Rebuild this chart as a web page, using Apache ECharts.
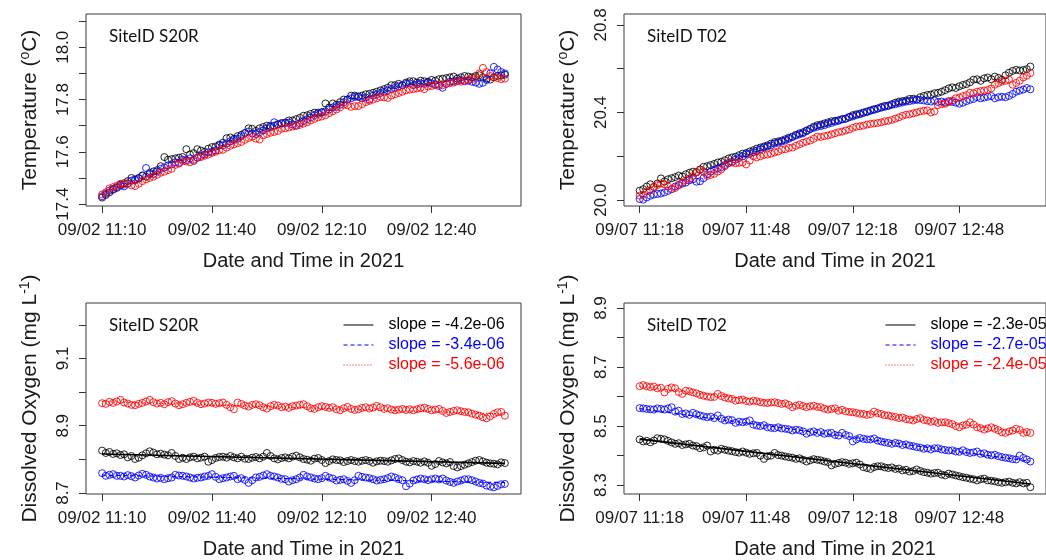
<!DOCTYPE html>
<html>
<head>
<meta charset="utf-8">
<script src="https://cdn.jsdelivr.net/npm/echarts@6/dist/echarts.min.js"></script>
<style>
html,body{margin:0;padding:0;background:#fff}
#main{width:1046px;height:560px}
</style>
</head>
<body>
<div id="main"></div>
<script>
// one reading per minute, x = minutes after the first reading
var xTicks = [0, 30, 60, 90];

// ---- SiteID S20R, 09/02 from 11:10 ----
var s20rTempBlack = [
17.425,17.435,17.445,17.455,17.462,17.475,17.480,17.488,17.500,17.492,
17.500,17.508,17.505,17.515,17.525,17.530,17.545,17.580,17.570,17.572,
17.575,17.578,17.580,17.610,17.590,17.595,17.610,17.605,17.600,17.612,
17.618,17.620,17.625,17.635,17.652,17.655,17.650,17.660,17.665,17.672,
17.690,17.688,17.680,17.690,17.695,17.700,17.695,17.700,17.705,17.710,
17.712,17.720,17.720,17.725,17.730,17.738,17.740,17.745,17.750,17.750,
17.752,17.785,17.770,17.785,17.780,17.790,17.800,17.800,17.815,17.815,
17.810,17.815,17.820,17.822,17.826,17.830,17.835,17.840,17.845,17.855,
17.855,17.860,17.855,17.865,17.870,17.870,17.865,17.872,17.870,17.868,
17.875,17.872,17.878,17.880,17.882,17.885,17.888,17.880,17.885,17.890,
17.888,17.885,17.890,17.893,17.885,17.880,17.876,17.885,17.890,17.892,
17.895];
var s20rTempBlue = [
17.430,17.440,17.452,17.458,17.465,17.470,17.468,17.478,17.490,17.495,
17.498,17.510,17.538,17.520,17.515,17.525,17.535,17.540,17.548,17.552,
17.560,17.558,17.570,17.568,17.575,17.565,17.578,17.585,17.590,17.598,
17.600,17.605,17.628,17.625,17.632,17.640,17.645,17.650,17.660,17.672,
17.678,17.670,17.668,17.675,17.682,17.690,17.700,17.713,17.705,17.708,
17.710,17.712,17.705,17.700,17.710,17.718,17.725,17.732,17.740,17.745,
17.750,17.755,17.762,17.770,17.772,17.780,17.790,17.800,17.805,17.810,
17.812,17.805,17.808,17.800,17.815,17.820,17.825,17.830,17.835,17.840,
17.845,17.850,17.855,17.860,17.862,17.855,17.858,17.862,17.860,17.865,
17.862,17.858,17.852,17.845,17.860,17.868,17.870,17.872,17.875,17.870,
17.872,17.868,17.865,17.860,17.864,17.875,17.900,17.925,17.915,17.905,
17.900];
var s20rTempRed = [
17.437,17.445,17.460,17.465,17.470,17.478,17.475,17.480,17.472,17.469,
17.478,17.488,17.495,17.500,17.505,17.512,17.520,17.524,17.530,17.535,
17.550,17.555,17.565,17.563,17.560,17.570,17.577,17.580,17.585,17.590,
17.596,17.600,17.606,17.608,17.616,17.623,17.628,17.633,17.638,17.646,
17.653,17.658,17.650,17.647,17.663,17.668,17.673,17.676,17.680,17.688,
17.690,17.693,17.697,17.700,17.703,17.708,17.713,17.720,17.726,17.732,
17.735,17.740,17.748,17.755,17.762,17.770,17.780,17.778,17.772,17.775,
17.775,17.782,17.790,17.795,17.800,17.805,17.810,17.808,17.806,17.815,
17.820,17.825,17.830,17.835,17.838,17.840,17.842,17.845,17.840,17.850,
17.852,17.855,17.858,17.855,17.860,17.862,17.865,17.870,17.868,17.872,
17.875,17.878,17.885,17.900,17.921,17.905,17.890,17.885,17.882,17.878,
17.880];
var s20rDoBlack = [
8.826,8.819,8.822,8.816,8.818,8.813,8.815,8.806,8.810,8.801,
8.805,8.812,8.818,8.824,8.820,8.815,8.817,8.814,8.812,8.819,
8.810,8.801,8.805,8.801,8.806,8.808,8.803,8.805,8.808,8.793,
8.798,8.804,8.807,8.808,8.805,8.810,8.806,8.803,8.808,8.802,
8.801,8.805,8.807,8.803,8.808,8.819,8.810,8.803,8.800,8.804,
8.806,8.803,8.808,8.811,8.806,8.801,8.799,8.796,8.802,8.804,
8.798,8.789,8.795,8.800,8.798,8.797,8.792,8.795,8.798,8.795,
8.793,8.796,8.798,8.795,8.790,8.794,8.796,8.795,8.793,8.797,
8.801,8.803,8.798,8.793,8.791,8.795,8.793,8.790,8.794,8.790,
8.781,8.786,8.795,8.791,8.788,8.792,8.780,8.776,8.780,8.784,
8.788,8.792,8.796,8.798,8.794,8.790,8.788,8.787,8.785,8.791,
8.789];
var s20rDoBlue = [
8.759,8.751,8.754,8.756,8.751,8.751,8.749,8.753,8.750,8.746,
8.752,8.757,8.754,8.749,8.746,8.743,8.745,8.741,8.744,8.746,
8.754,8.752,8.751,8.749,8.746,8.743,8.745,8.746,8.749,8.751,
8.756,8.748,8.741,8.744,8.746,8.749,8.751,8.741,8.744,8.739,
8.730,8.738,8.746,8.748,8.752,8.756,8.751,8.749,8.746,8.742,
8.741,8.734,8.738,8.741,8.746,8.754,8.749,8.746,8.743,8.741,
8.744,8.751,8.746,8.743,8.737,8.739,8.741,8.736,8.730,8.738,
8.751,8.748,8.746,8.744,8.741,8.737,8.739,8.741,8.744,8.749,
8.746,8.741,8.738,8.720,8.728,8.737,8.740,8.743,8.741,8.738,
8.741,8.743,8.740,8.743,8.737,8.733,8.730,8.734,8.737,8.741,
8.741,8.738,8.734,8.730,8.728,8.722,8.719,8.717,8.721,8.726,
8.727];
var s20rDoRed = [
8.967,8.965,8.971,8.968,8.972,8.977,8.969,8.966,8.962,8.961,
8.965,8.968,8.972,8.977,8.970,8.966,8.968,8.964,8.970,8.973,
8.966,8.961,8.964,8.968,8.971,8.974,8.968,8.964,8.966,8.969,
8.968,8.965,8.967,8.969,8.962,8.955,8.949,8.969,8.965,8.960,
8.957,8.962,8.964,8.961,8.955,8.951,8.958,8.962,8.960,8.955,
8.957,8.953,8.958,8.960,8.962,8.964,8.958,8.952,8.950,8.955,
8.958,8.956,8.953,8.955,8.949,8.946,8.952,8.956,8.950,8.947,
8.949,8.953,8.955,8.951,8.954,8.959,8.955,8.950,8.952,8.948,
8.946,8.948,8.950,8.947,8.949,8.946,8.949,8.952,8.954,8.950,
8.946,8.948,8.950,8.944,8.938,8.941,8.944,8.946,8.943,8.941,
8.940,8.936,8.933,8.930,8.925,8.922,8.928,8.935,8.940,8.941,
8.930];
// fitted lines: value at first and last reading
var s20rFitBlack = [8.816, 8.788];
var s20rFitBlue = [8.753, 8.731];
var s20rFitRed = [8.972, 8.935];
var s20rSlopes = ['slope = -4.2e-06', 'slope = -3.4e-06', 'slope = -5.6e-06'];

// ---- SiteID T02, 09/07 from 11:18 ----
var t02TempBlack = [
20.043,20.050,20.062,20.072,20.060,20.076,20.099,20.085,20.095,20.100,
20.105,20.112,20.108,20.118,20.125,20.130,20.128,20.140,20.152,20.155,
20.160,20.165,20.172,20.175,20.182,20.190,20.195,20.198,20.205,20.212,
20.215,20.222,20.228,20.235,20.240,20.245,20.250,20.258,20.265,20.268,
20.272,20.278,20.285,20.290,20.298,20.305,20.310,20.318,20.325,20.335,
20.342,20.345,20.350,20.355,20.360,20.362,20.365,20.370,20.372,20.380,
20.388,20.392,20.395,20.400,20.405,20.410,20.415,20.418,20.425,20.430,
20.432,20.438,20.445,20.450,20.452,20.455,20.462,20.463,20.460,20.470,
20.476,20.480,20.482,20.488,20.490,20.495,20.502,20.510,20.515,20.512,
20.520,20.526,20.530,20.538,20.550,20.552,20.545,20.556,20.560,20.552,
20.564,20.558,20.550,20.570,20.582,20.590,20.595,20.592,20.594,20.598,
20.610];
var t02TempBlue = [
20.005,20.002,20.012,20.020,20.025,20.028,20.030,20.035,20.042,20.050,
20.062,20.068,20.075,20.080,20.090,20.095,20.084,20.086,20.100,20.118,
20.130,20.138,20.145,20.150,20.160,20.168,20.175,20.185,20.192,20.200,
20.210,20.212,20.218,20.225,20.232,20.240,20.245,20.250,20.258,20.262,
20.267,20.272,20.280,20.288,20.295,20.300,20.305,20.315,20.325,20.330,
20.335,20.338,20.342,20.348,20.352,20.358,20.362,20.368,20.372,20.378,
20.382,20.388,20.392,20.398,20.402,20.408,20.412,20.418,20.422,20.426,
20.430,20.435,20.438,20.442,20.446,20.450,20.452,20.455,20.458,20.457,
20.455,20.452,20.450,20.455,20.448,20.450,20.446,20.452,20.448,20.445,
20.440,20.445,20.452,20.458,20.462,20.470,20.465,20.468,20.472,20.475,
20.465,20.470,20.472,20.470,20.476,20.485,20.495,20.500,20.505,20.512,
20.506];
var t02TempRed = [
20.020,20.025,20.040,20.045,20.060,20.068,20.076,20.072,20.062,20.050,
20.055,20.070,20.080,20.090,20.098,20.110,20.125,20.137,20.130,20.110,
20.115,20.120,20.130,20.140,20.155,20.170,20.172,20.168,20.170,20.172,
20.163,20.180,20.200,20.195,20.200,20.206,20.208,20.212,20.218,20.222,
20.230,20.232,20.238,20.240,20.248,20.255,20.262,20.267,20.272,20.280,
20.290,20.288,20.292,20.295,20.300,20.305,20.310,20.313,20.318,20.322,
20.330,20.335,20.337,20.340,20.345,20.348,20.350,20.352,20.355,20.360,
20.362,20.366,20.372,20.378,20.385,20.390,20.392,20.396,20.400,20.405,
20.408,20.410,20.400,20.405,20.434,20.438,20.440,20.448,20.455,20.465,
20.468,20.475,20.480,20.490,20.488,20.495,20.498,20.500,20.503,20.510,
20.527,20.535,20.541,20.545,20.550,20.527,20.535,20.545,20.560,20.568,
20.580];
var t02DoBlack = [
8.455,8.448,8.450,8.445,8.451,8.459,8.457,8.455,8.450,8.445,
8.440,8.442,8.436,8.438,8.440,8.434,8.432,8.425,8.428,8.434,
8.414,8.420,8.417,8.423,8.420,8.417,8.415,8.412,8.410,8.414,
8.410,8.406,8.408,8.409,8.400,8.389,8.398,8.400,8.409,8.402,
8.400,8.397,8.395,8.393,8.389,8.391,8.386,8.380,8.384,8.388,
8.386,8.384,8.380,8.378,8.367,8.372,8.375,8.378,8.376,8.372,
8.374,8.376,8.370,8.361,8.358,8.355,8.361,8.364,8.364,8.360,
8.358,8.360,8.355,8.356,8.350,8.352,8.346,8.348,8.353,8.348,
8.344,8.342,8.339,8.341,8.342,8.336,8.333,8.339,8.336,8.333,
8.330,8.327,8.325,8.322,8.320,8.316,8.320,8.322,8.316,8.315,
8.313,8.310,8.308,8.310,8.312,8.308,8.306,8.310,8.306,8.308,
8.293];
var t02DoBlue = [
8.561,8.560,8.558,8.557,8.556,8.560,8.558,8.556,8.560,8.564,
8.549,8.552,8.541,8.543,8.538,8.545,8.540,8.536,8.533,8.530,
8.532,8.527,8.536,8.525,8.519,8.522,8.520,8.511,8.515,8.513,
8.515,8.519,8.505,8.502,8.500,8.503,8.496,8.494,8.493,8.496,
8.492,8.491,8.489,8.485,8.488,8.486,8.482,8.474,8.479,8.482,
8.477,8.480,8.474,8.476,8.477,8.470,8.468,8.477,8.470,8.466,
8.448,8.455,8.460,8.457,8.455,8.455,8.458,8.451,8.448,8.445,
8.443,8.440,8.443,8.441,8.436,8.438,8.434,8.432,8.429,8.427,
8.423,8.425,8.421,8.425,8.425,8.421,8.419,8.417,8.418,8.414,
8.413,8.418,8.412,8.409,8.411,8.414,8.406,8.408,8.403,8.401,
8.403,8.398,8.395,8.393,8.391,8.388,8.387,8.400,8.392,8.387,
8.380];
var t02DoRed = [
8.635,8.639,8.635,8.632,8.634,8.628,8.630,8.614,8.626,8.631,
8.628,8.615,8.609,8.620,8.618,8.614,8.611,8.606,8.603,8.600,
8.598,8.599,8.609,8.602,8.597,8.594,8.592,8.586,8.588,8.590,
8.585,8.583,8.586,8.584,8.581,8.579,8.578,8.580,8.581,8.578,
8.575,8.577,8.572,8.564,8.569,8.572,8.568,8.564,8.567,8.569,
8.565,8.564,8.559,8.556,8.558,8.560,8.552,8.555,8.550,8.548,
8.547,8.545,8.542,8.541,8.538,8.540,8.549,8.544,8.541,8.537,
8.536,8.533,8.531,8.527,8.529,8.524,8.522,8.519,8.524,8.527,
8.521,8.519,8.515,8.517,8.511,8.513,8.513,8.510,8.507,8.500,
8.496,8.502,8.505,8.513,8.505,8.496,8.493,8.488,8.492,8.496,
8.491,8.486,8.479,8.477,8.482,8.485,8.491,8.487,8.477,8.480,
8.477];
var t02FitBlack = [8.456, 8.304];
var t02FitBlue = [8.559, 8.381];
var t02FitRed = [8.635, 8.477];
var t02Slopes = ['slope = -2.3e-05', 'slope = -2.7e-05', 'slope = -2.4e-05'];

// ---- y axis ticks / labels ----
var tempS20RTicks = [17.4, 17.5, 17.6, 17.7, 17.8, 17.9, 18.0, 18.1];
var tempS20RLabels = [17.4, 17.6, 17.8, 18.0];
var tempT02Ticks = [20.0, 20.2, 20.4, 20.6, 20.8];
var tempT02Labels = [20.0, 20.4, 20.8];
var doS20RTicks = [8.7, 8.8, 8.9, 9.0, 9.1, 9.2];
var doS20RLabels = [8.7, 8.9, 9.1];
var doT02Ticks = [8.3, 8.4, 8.5, 8.6, 8.7, 8.8, 8.9];
var doT02Labels = [8.3, 8.5, 8.7, 8.9];

var colors = ['#000000', '#0000ff', '#ff0000'];
var fitTypes = ['solid', [4, 3], [1, 2]];
var tempName = 'Temperature ({sup|o}C)';
var doName = 'Dissolved Oxygen (mg L{sup|-1})';

var panels = [
  {site: 'SiteID S20R', day: '09/02', start: 11 * 60 + 10, left: 86, top: 14,
   ymin: 17.3928, ymax: 18.1272, ticks: tempS20RTicks, labels: tempS20RLabels, yname: tempName,
   pts: [s20rTempBlack, s20rTempBlue, s20rTempRed]},
  {site: 'SiteID T02', day: '09/07', start: 11 * 60 + 18, left: 624, top: 14,
   ymin: 19.973, ymax: 20.85, ticks: tempT02Ticks, labels: tempT02Labels, yname: tempName,
   pts: [t02TempBlack, t02TempBlue, t02TempRed]},
  {site: 'SiteID S20R', day: '09/02', start: 11 * 60 + 10, left: 86, top: 303,
   ymin: 8.697, ymax: 9.265, ticks: doS20RTicks, labels: doS20RLabels, yname: doName,
   pts: [s20rDoBlack, s20rDoBlue, s20rDoRed],
   fits: [s20rFitBlack, s20rFitBlue, s20rFitRed], slopes: s20rSlopes, legendLeft: 343},
  {site: 'SiteID T02', day: '09/07', start: 11 * 60 + 18, left: 624, top: 303,
   ymin: 8.27, ymax: 8.917, ticks: doT02Ticks, labels: doT02Labels, yname: doName,
   pts: [t02DoBlack, t02DoBlue, t02DoRed],
   fits: [t02FitBlack, t02FitBlue, t02FitRed], slopes: t02Slopes, legendLeft: 885}
];

var W = 435, H = 192;
var FONT = 'Liberation Sans, Arial, sans-serif';

function pad(n) { return n < 10 ? '0' + n : '' + n; }

var grid = [], xAxis = [], yAxis = [], series = [], title = [], legend = [];

panels.forEach(function (p, gi) {
  grid.push({left: p.left, top: p.top, width: W, height: H, show: true,
    borderColor: '#3a3a3a', borderWidth: 1, backgroundColor: 'transparent'});

  xAxis.push({
    type: 'value', gridIndex: gi, min: -4.4, max: 114.4,
    axisLine: {show: false, onZero: false},
    splitLine: {show: false},
    axisTick: {show: true, customValues: xTicks, length: 7, lineStyle: {color: '#333'}},
    axisLabel: {customValues: xTicks, margin: 16, fontSize: 17, color: '#1a1a1a', fontFamily: FONT,
      formatter: (function (p) {
        return function (v) {
          var m = p.start + v;
          return p.day + ' ' + Math.floor(m / 60) + ':' + pad(m % 60);
        };
      })(p)},
    name: 'Date and Time in 2021', nameLocation: 'middle', nameGap: 45, nameMoveOverlap: false,
    nameTextStyle: {fontSize: 20, color: '#1a1a1a', fontFamily: FONT}
  });

  yAxis.push({
    type: 'value', gridIndex: gi, min: p.ymin, max: p.ymax,
    axisLine: {show: false, onZero: false},
    splitLine: {show: false},
    axisTick: {show: true, customValues: p.ticks, length: 7, lineStyle: {color: '#333'}},
    axisLabel: {customValues: p.labels, rotate: 90, margin: 14, fontSize: 17, color: '#1a1a1a',
      fontFamily: FONT, formatter: function (v) { return v.toFixed(1); }},
    name: p.yname, nameLocation: 'middle', nameGap: 44, nameMoveOverlap: false,
    nameTextStyle: {fontSize: 21, color: '#1a1a1a', fontFamily: FONT, lineHeight: 24,
      rich: {sup: {fontSize: 14, fontFamily: FONT, color: '#1a1a1a', verticalAlign: 'top', lineHeight: 24}}}
  });

  title.push({text: p.site, left: p.left + 23, top: p.top + 14, padding: 0,
    textStyle: {fontFamily: 'Lato, sans-serif', fontSize: 17, fontWeight: 'normal', color: '#111'}});

  p.pts.forEach(function (vals, k) {
    series.push({
      type: 'scatter', xAxisIndex: gi, yAxisIndex: gi, symbol: 'circle', symbolSize: 7,
      silent: true,
      itemStyle: {color: 'rgba(0,0,0,0)', borderColor: colors[k], borderWidth: 1, opacity: 0.85},
      data: vals.map(function (v, i) { return [i, v]; })
    });
  });

  if (p.fits) {
    var last = p.pts[0].length - 1;
    p.fits.forEach(function (f, k) {
      series.push({
        type: 'line', name: p.slopes[k], xAxisIndex: gi, yAxisIndex: gi, symbol: 'none',
        silent: true,
        lineStyle: {color: colors[k], width: k === 0 ? 1.6 : 1.2, type: fitTypes[k]},
        itemStyle: {color: colors[k]},
        data: [[0, f[0]], [last, f[1]]]
      });
    });
    legend.push({
      orient: 'vertical', left: p.legendLeft, top: p.top + 12, padding: 0,
      itemWidth: 30, itemHeight: 14, itemGap: 0, selectedMode: false,
      itemStyle: {opacity: 0},
      lineStyle: {width: 1},
      textStyle: {fontSize: 16, fontFamily: FONT, lineHeight: 20, padding: [0, 0, 0, 10]},
      data: p.slopes.map(function (s, k) { return {name: s, textStyle: {color: colors[k]}}; })
    });
  }
});

var chart = echarts.init(document.getElementById('main'));
chart.setOption({
  animation: false,
  backgroundColor: '#ffffff',
  title: title,
  legend: legend,
  grid: grid,
  xAxis: xAxis,
  yAxis: yAxis,
  series: series
});
</script>
</body>
</html>
